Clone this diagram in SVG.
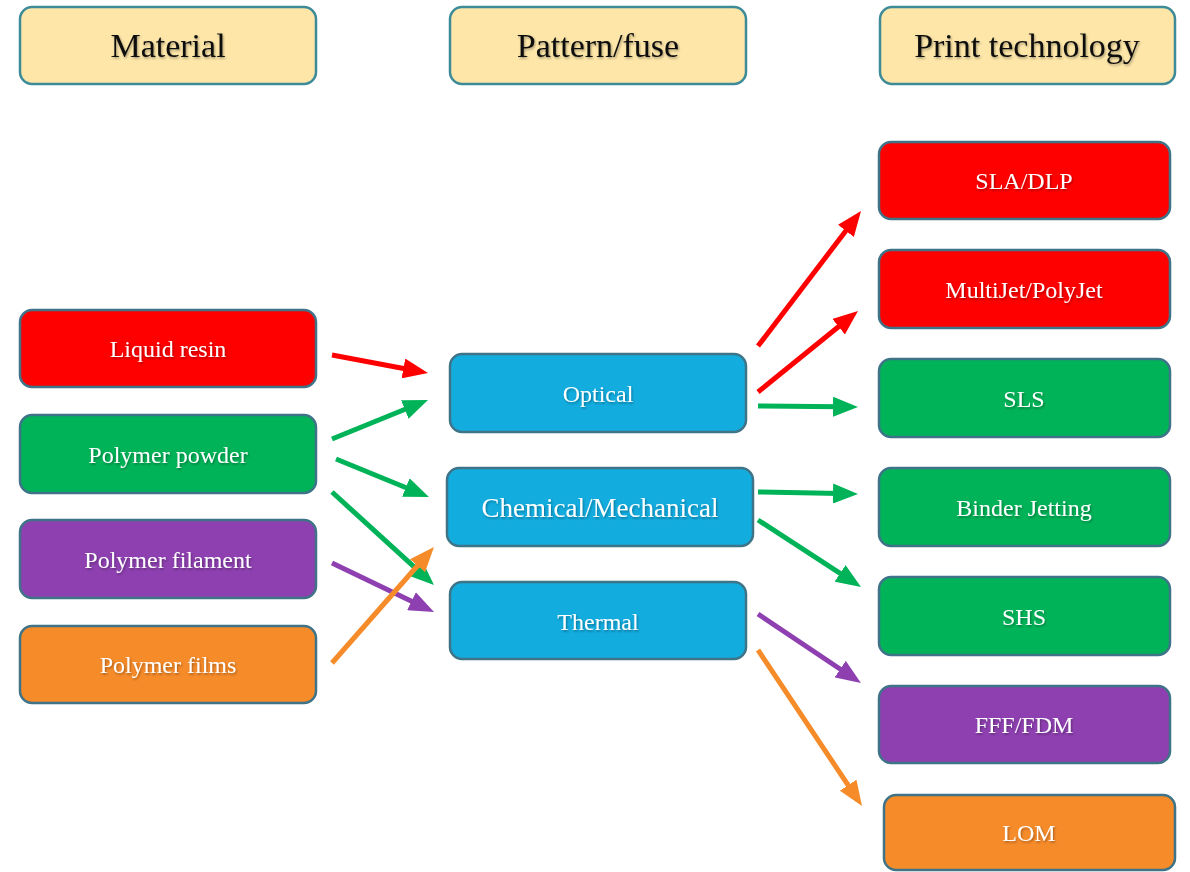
<svg xmlns="http://www.w3.org/2000/svg" width="1190" height="872" viewBox="0 0 1190 872">
  <style>
    .box { stroke: #3f7488; stroke-width: 2.5; }
    .hdr { fill: #fde6a8; stroke: #3d8a99; stroke-width: 2.5; }
    .red { fill: #ff0000; }
    .green { fill: #00b358; }
    .purple { fill: #8e40b0; }
    .orange { fill: #f68b2a; }
    .blue { fill: #12acdf; }
    .htxt { font-family: "Liberation Serif", "Times New Roman", serif; font-size: 34px; fill: #111; text-anchor: middle; filter: url(#soft); }
    .txt { font-family: "Liberation Serif", "Times New Roman", serif; font-size: 24px; fill: #fff; text-anchor: middle; filter: url(#soft); }
    .big { font-size: 27px; }
    .c { fill: none; stroke-width: 5; }
  </style>
  <defs>
    <filter id="soft" x="-10%" y="-30%" width="120%" height="160%">
      <feDropShadow dx="1" dy="1.5" stdDeviation="1" flood-color="#000" flood-opacity="0.35"/>
    </filter>
    <!-- arrowheads: the line ends inside the head, the tip sits 18px beyond it -->
    <marker id="aR" viewBox="0 0 10 8" refX="2.8" refY="4" markerWidth="5" markerHeight="4" orient="auto"><path d="M0,0 L10,4 L0,8 Z" fill="#ff0000"/></marker>
    <marker id="aG" viewBox="0 0 10 8" refX="2.8" refY="4" markerWidth="5" markerHeight="4" orient="auto"><path d="M0,0 L10,4 L0,8 Z" fill="#00b358"/></marker>
    <marker id="aP" viewBox="0 0 10 8" refX="2.8" refY="4" markerWidth="5" markerHeight="4" orient="auto"><path d="M0,0 L10,4 L0,8 Z" fill="#8e40b0"/></marker>
    <marker id="aO" viewBox="0 0 10 8" refX="2.8" refY="4" markerWidth="5" markerHeight="4" orient="auto"><path d="M0,0 L10,4 L0,8 Z" fill="#f68b2a"/></marker>
  </defs>

  <rect width="1190" height="872" fill="#ffffff"/>

  <!-- column headers -->
  <g id="hdr-material"><rect class="hdr" x="20" y="7" width="296" height="77" rx="12"/><text class="htxt" x="168" y="57">Material</text></g>
  <g id="hdr-pattern"><rect class="hdr" x="450" y="7" width="296" height="77" rx="12"/><text class="htxt" x="598" y="57">Pattern/fuse</text></g>
  <g id="hdr-print"><rect class="hdr" x="880" y="7" width="295" height="77" rx="12"/><text class="htxt" x="1027" y="57">Print technology</text></g>

  <!-- materials -->
  <g id="liquid-resin"><rect class="box red" x="20" y="310" width="296" height="77" rx="12"/><text class="txt" x="168" y="357">Liquid resin</text></g>
  <g id="polymer-powder"><rect class="box green" x="20" y="415" width="296" height="78" rx="12"/><text class="txt" x="168" y="463">Polymer powder</text></g>
  <g id="polymer-filament"><rect class="box purple" x="20" y="520" width="296" height="78" rx="12"/><text class="txt" x="168" y="568">Polymer filament</text></g>
  <g id="polymer-films"><rect class="box orange" x="20" y="626" width="296" height="77" rx="12"/><text class="txt" x="168" y="673">Polymer films</text></g>

  <!-- pattern / fuse -->
  <g id="optical"><rect class="box blue" x="450" y="354" width="296" height="78" rx="12"/><text class="txt" x="598" y="402">Optical</text></g>
  <g id="chem-mech"><rect class="box blue" x="447" y="468" width="306" height="78" rx="12"/><text class="txt big" x="600" y="517">Chemical/Mechanical</text></g>
  <g id="thermal"><rect class="box blue" x="450" y="582" width="296" height="77" rx="12"/><text class="txt" x="598" y="630">Thermal</text></g>

  <!-- print technologies -->
  <g id="sla-dlp"><rect class="box red" x="879" y="142" width="291" height="77" rx="12"/><text class="txt" x="1024" y="189">SLA/DLP</text></g>
  <g id="multijet"><rect class="box red" x="879" y="250" width="291" height="78" rx="12"/><text class="txt" x="1024" y="298">MultiJet/PolyJet</text></g>
  <g id="sls"><rect class="box green" x="879" y="359" width="291" height="78" rx="12"/><text class="txt" x="1024" y="407">SLS</text></g>
  <g id="binder-jetting"><rect class="box green" x="879" y="468" width="291" height="78" rx="12"/><text class="txt" x="1024" y="516">Binder Jetting</text></g>
  <g id="shs"><rect class="box green" x="879" y="577" width="291" height="78" rx="12"/><text class="txt" x="1024" y="625">SHS</text></g>
  <g id="fff-fdm"><rect class="box purple" x="879" y="686" width="291" height="77" rx="12"/><text class="txt" x="1024" y="733">FFF/FDM</text></g>
  <g id="lom"><rect class="box orange" x="884" y="795" width="291" height="75" rx="12"/><text class="txt" x="1029" y="841">LOM</text></g>

  <!-- connectors -->
  <g id="connectors">
    <line class="c" stroke="#ff0000" marker-end="url(#aR)" x1="332" y1="355" x2="410.3" y2="369.7"/>
    <line class="c" stroke="#00b358" marker-end="url(#aG)" x1="332" y1="439" x2="411.3" y2="406.8"/>
    <line class="c" stroke="#00b358" marker-end="url(#aG)" x1="336" y1="459" x2="412.3" y2="490.2"/>
    <line class="c" stroke="#00b358" marker-end="url(#aG)" x1="332" y1="492" x2="420.7" y2="572.9"/>
    <line class="c" stroke="#8e40b0" marker-end="url(#aP)" x1="332" y1="563" x2="417.8" y2="604.2"/>
    <line class="c" stroke="#f68b2a" marker-end="url(#aO)" x1="332" y1="663" x2="422.1" y2="560.5"/>

    <line class="c" stroke="#ff0000" marker-end="url(#aR)" x1="758" y1="346" x2="850.1" y2="225.3"/>
    <line class="c" stroke="#ff0000" marker-end="url(#aR)" x1="758" y1="392" x2="844.0" y2="322.3"/>
    <line class="c" stroke="#00b358" marker-end="url(#aG)" x1="758" y1="406" x2="840" y2="406.8"/>
    <line class="c" stroke="#00b358" marker-end="url(#aG)" x1="758" y1="492" x2="840" y2="493.6"/>
    <line class="c" stroke="#00b358" marker-end="url(#aG)" x1="758" y1="520" x2="845.9" y2="577.2"/>
    <line class="c" stroke="#8e40b0" marker-end="url(#aP)" x1="758" y1="614" x2="846.0" y2="673.0"/>
    <line class="c" stroke="#f68b2a" marker-end="url(#aO)" x1="758" y1="650" x2="852.0" y2="791.0"/>
  </g>
</svg>
